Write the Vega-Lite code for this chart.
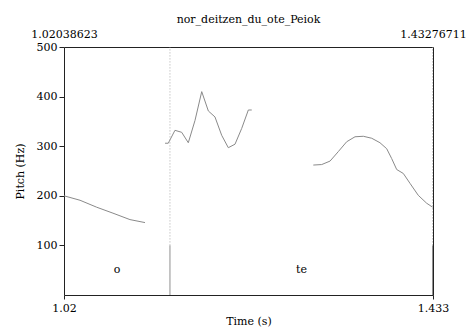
{
  "$schema": "https://vega.github.io/schema/vega-lite/v6.json",
  "width": 369,
  "height": 248,
  "autosize": {"type": "none"},
  "padding": {"left": 64, "top": 47, "right": 33, "bottom": 34},
  "title": {"text": "nor_deitzen_du_ote_Peiok", "font": "DejaVu Serif", "fontSize": 11, "fontWeight": "normal", "color": "#000000", "offset": 3},
  "config": {"view": {"stroke": "#222222", "strokeWidth": 1}, "font": "DejaVu Serif"},
  "datasets": {
    "pitch": [
      {"seg": 1, "t": 1.0204, "hz": 200}, {"seg": 1, "t": 1.0383, "hz": 191}, {"seg": 1, "t": 1.0569, "hz": 177},
      {"seg": 1, "t": 1.0751, "hz": 165}, {"seg": 1, "t": 1.0941, "hz": 152}, {"seg": 1, "t": 1.1109, "hz": 146},
      {"seg": 2, "t": 1.1333, "hz": 306}, {"seg": 2, "t": 1.1369, "hz": 306}, {"seg": 2, "t": 1.1444, "hz": 332},
      {"seg": 2, "t": 1.1519, "hz": 328}, {"seg": 2, "t": 1.1593, "hz": 307}, {"seg": 2, "t": 1.1668, "hz": 352},
      {"seg": 2, "t": 1.1743, "hz": 410}, {"seg": 2, "t": 1.1817, "hz": 371}, {"seg": 2, "t": 1.1891, "hz": 359},
      {"seg": 2, "t": 1.1966, "hz": 322}, {"seg": 2, "t": 1.2040, "hz": 297}, {"seg": 2, "t": 1.2115, "hz": 304},
      {"seg": 2, "t": 1.2190, "hz": 336}, {"seg": 2, "t": 1.2264, "hz": 373}, {"seg": 2, "t": 1.2302, "hz": 373},
      {"seg": 3, "t": 1.2990, "hz": 262}, {"seg": 3, "t": 1.3084, "hz": 263}, {"seg": 3, "t": 1.3177, "hz": 270},
      {"seg": 3, "t": 1.3269, "hz": 289}, {"seg": 3, "t": 1.3363, "hz": 309}, {"seg": 3, "t": 1.3456, "hz": 319},
      {"seg": 3, "t": 1.3549, "hz": 320}, {"seg": 3, "t": 1.3643, "hz": 316}, {"seg": 3, "t": 1.3735, "hz": 307},
      {"seg": 3, "t": 1.3810, "hz": 295}, {"seg": 3, "t": 1.3866, "hz": 275}, {"seg": 3, "t": 1.3922, "hz": 253},
      {"seg": 3, "t": 1.3996, "hz": 245}, {"seg": 3, "t": 1.4071, "hz": 225}, {"seg": 3, "t": 1.4163, "hz": 201},
      {"seg": 3, "t": 1.4257, "hz": 185}, {"seg": 3, "t": 1.4324, "hz": 177}
    ],
    "bounds": [{"t": 1.1388}, {"t": 1.4322}],
    "labels": [{"t": 1.0796, "hz": 50, "label": "o"}, {"t": 1.2858, "hz": 50, "label": "te"}],
    "ends": [{"t": 1.02038623}, {"t": 1.43276711}]
  },
  "resolve": {"axis": {"x": "independent"}},
  "layer": [
    {
      "data": {"name": "pitch"},
      "mark": {"type": "line", "color": "#8a8a8a", "strokeWidth": 1},
      "encoding": {
        "x": {"field": "t", "type": "quantitative",
              "scale": {"domain": [1.02038623, 1.43276711], "nice": false, "zero": false},
              "axis": {"orient": "bottom", "values": [1.02038623, 1.43276711],
                       "labelExpr": "datum.value < 1.2 ? '1.02' : '1.433'",
                       "labelFlush": false, "domain": false, "grid": false,
                       "tickSize": 4, "tickColor": "#222222", "labelPadding": 3,
                       "labelFont": "DejaVu Serif", "labelFontSize": 11, "labelColor": "#000000",
                       "title": "Time (s)", "titleFont": "DejaVu Serif", "titleFontSize": 11,
                       "titleFontWeight": "normal", "titleColor": "#000000", "titlePadding": 2}},
        "y": {"field": "hz", "type": "quantitative",
              "scale": {"domain": [0, 500], "nice": false},
              "title": "Pitch (Hz)",
              "axis": {"values": [100, 200, 300, 400, 500], "domain": false, "grid": false,
                       "tickSize": 5, "tickColor": "#222222", "labelPadding": 2,
                       "labelFont": "DejaVu Serif", "labelFontSize": 11, "labelColor": "#000000",
                       "titleFont": "DejaVu Serif", "titleFontSize": 11,
                       "titleFontWeight": "normal", "titleColor": "#000000", "titlePadding": 11}},
        "detail": {"field": "seg"}
      }
    },
    {
      "data": {"name": "ends"},
      "mark": {"type": "rule", "opacity": 0},
      "encoding": {
        "x": {"field": "t", "type": "quantitative",
              "axis": {"orient": "top", "values": [1.02038623, 1.43276711], "format": ".8f",
                       "labelFlush": false, "domain": false, "grid": false, "ticks": false,
                       "labelPadding": 8,
                       "labelFont": "DejaVu Serif", "labelFontSize": 11, "labelColor": "#000000",
                       "title": null}},
        "y": {"datum": 0, "type": "quantitative", "title": "Pitch (Hz)"},
        "y2": {"datum": 1}
      }
    },
    {
      "mark": {"type": "rule", "color": "#808080", "strokeWidth": 1},
      "encoding": {"y": {"datum": 100, "type": "quantitative", "title": "Pitch (Hz)"}}
    },
    {
      "data": {"name": "bounds"},
      "mark": {"type": "rule", "color": "#909090", "strokeWidth": 1},
      "encoding": {
        "x": {"field": "t", "type": "quantitative", "axis": null},
        "y": {"datum": 0, "type": "quantitative", "title": "Pitch (Hz)"},
        "y2": {"datum": 100}
      }
    },
    {
      "data": {"name": "bounds"},
      "mark": {"type": "rule", "color": "#aaaaaa", "strokeWidth": 1, "strokeDash": [1, 2]},
      "encoding": {
        "x": {"field": "t", "type": "quantitative", "axis": null},
        "y": {"datum": 100, "type": "quantitative", "title": "Pitch (Hz)"},
        "y2": {"datum": 500}
      }
    },
    {
      "data": {"name": "labels"},
      "mark": {"type": "text", "font": "DejaVu Serif", "fontSize": 11, "fill": "#000000"},
      "encoding": {
        "x": {"field": "t", "type": "quantitative", "axis": null},
        "y": {"field": "hz", "type": "quantitative", "title": "Pitch (Hz)"},
        "text": {"field": "label"}
      }
    }
  ]
}
